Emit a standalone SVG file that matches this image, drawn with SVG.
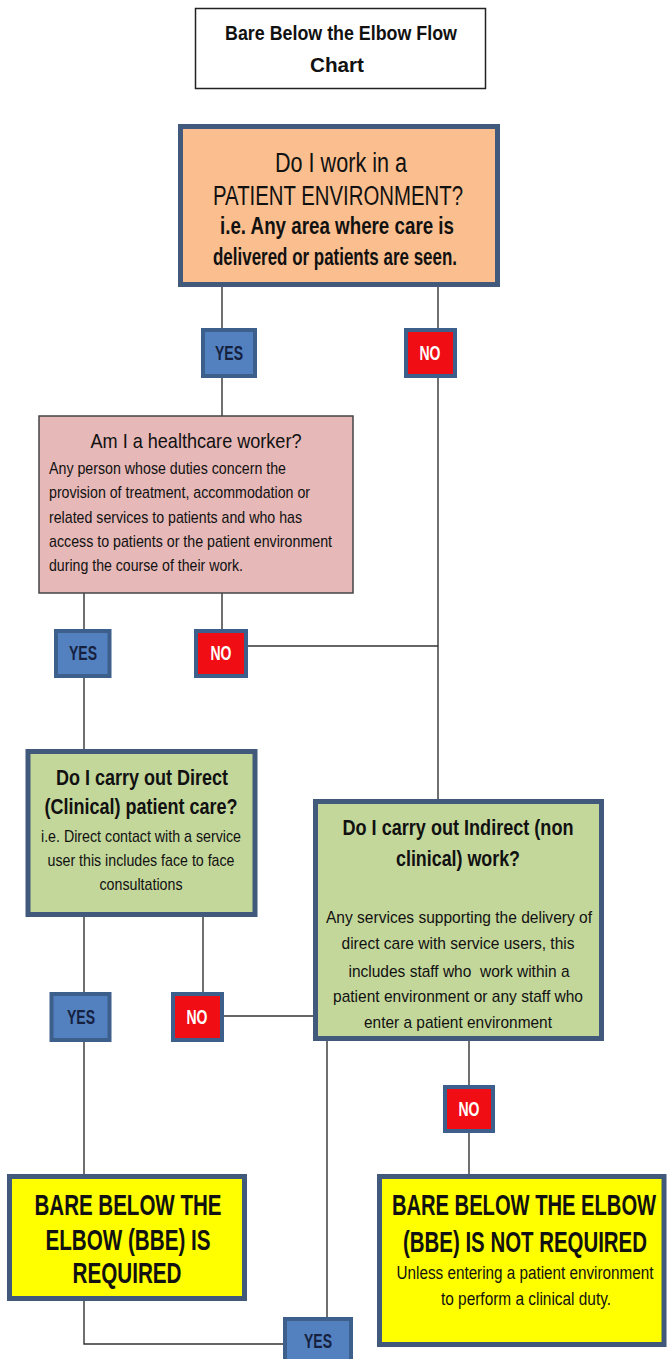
<svg xmlns="http://www.w3.org/2000/svg" width="667" height="1359" viewBox="0 0 667 1359">
<style>
text{font-family:"Liberation Sans Narrow","Liberation Sans",Arial,sans-serif;fill:#111;}
.b{font-weight:bold;}
.c{text-anchor:middle;}
.box{stroke:#41597a;stroke-width:5;}
.yn{stroke:#3c5f8c;stroke-width:4;}
.yes{fill:#5381c0;}
.no{fill:#f00d14;}
.ty{font-weight:bold;font-size:20px;fill:#15213f;text-anchor:middle;}
.tn{font-weight:bold;font-size:20px;fill:#fff;text-anchor:middle;}
.ln{stroke:#333;stroke-width:1.4;fill:none;}
</style>
<rect width="667" height="1359" fill="#fff"/>
<g id="connectors">
<path class="ln" d="M222 287V416"/>
<path class="ln" d="M438 287V799"/>
<path class="ln" d="M248 646H438"/>
<path class="ln" d="M84 593V749"/>
<path class="ln" d="M222 593V629"/>
<path class="ln" d="M84 917V1174"/>
<path class="ln" d="M203 917V992"/>
<path class="ln" d="M224 1016H313"/>
<path class="ln" d="M327 1041V1317"/>
<path class="ln" d="M469 1041V1174"/>
<path class="ln" d="M84 1301V1344H283"/>
</g>
<g id="title">
<rect x="195.5" y="8.5" width="290" height="80" fill="#fff" stroke="#222" stroke-width="1.5"/>
<text class="b c" x="341" y="40" font-size="20" textLength="232" lengthAdjust="spacingAndGlyphs">Bare Below the Elbow Flow</text>
<text class="b c" x="337" y="72" font-size="20" textLength="54" lengthAdjust="spacingAndGlyphs">Chart</text>
</g>
<g id="q1">
<rect class="box" x="180.5" y="126.5" width="317" height="158" fill="#fbbf8f"/>
<text class="c" x="341" y="172" font-size="27" textLength="132" lengthAdjust="spacingAndGlyphs">Do I work in a</text>
<text class="c" x="338" y="205" font-size="27" textLength="250" lengthAdjust="spacingAndGlyphs">PATIENT ENVIRONMENT?</text>
<text class="b c" x="337" y="234" font-size="23" textLength="234" lengthAdjust="spacingAndGlyphs">i.e. Any area where care is</text>
<text class="b c" x="335" y="265" font-size="23" textLength="244" lengthAdjust="spacingAndGlyphs">delivered or patients are seen.</text>
</g>
<g id="yes1">
<rect class="yn yes" x="203" y="330" width="52" height="46"/>
<text class="ty" x="229" y="360" textLength="28" lengthAdjust="spacingAndGlyphs">YES</text>
</g>
<g id="no1">
<rect class="yn no" x="406" y="330" width="49" height="46"/>
<text class="tn" x="430" y="360" textLength="21" lengthAdjust="spacingAndGlyphs">NO</text>
</g>
<g id="q2">
<rect x="39" y="416" width="314" height="177" fill="#e6b8b7" stroke="#444" stroke-width="1.5"/>
<text class="c" x="196" y="448" font-size="21" textLength="211" lengthAdjust="spacingAndGlyphs">Am I a healthcare worker?</text>
<text x="49" y="474" font-size="17" textLength="237" lengthAdjust="spacingAndGlyphs">Any person whose duties concern the</text>
<text x="49" y="498" font-size="17" textLength="261" lengthAdjust="spacingAndGlyphs">provision of treatment, accommodation or</text>
<text x="49" y="523" font-size="17" textLength="253" lengthAdjust="spacingAndGlyphs">related services to patients and who has</text>
<text x="49" y="547" font-size="17" textLength="283" lengthAdjust="spacingAndGlyphs">access to patients or the patient environment</text>
<text x="49" y="571" font-size="17" textLength="194" lengthAdjust="spacingAndGlyphs">during the course of their work.</text>
</g>
<g id="yes2">
<rect class="yn yes" x="56" y="631" width="53.5" height="45"/>
<text class="ty" x="83" y="660" textLength="28" lengthAdjust="spacingAndGlyphs">YES</text>
</g>
<g id="no2">
<rect class="yn no" x="196" y="631" width="50" height="45"/>
<text class="tn" x="221" y="660" textLength="21" lengthAdjust="spacingAndGlyphs">NO</text>
</g>
<g id="q3">
<rect class="box" x="28" y="751.5" width="227" height="163" fill="#c4d79b"/>
<text class="b c" x="142" y="785" font-size="22" textLength="172" lengthAdjust="spacingAndGlyphs">Do I carry out Direct</text>
<text class="b c" x="141" y="814" font-size="22" textLength="193" lengthAdjust="spacingAndGlyphs">(Clinical) patient care?</text>
<text class="c" x="141" y="842" font-size="17" textLength="200" lengthAdjust="spacingAndGlyphs">i.e. Direct contact with a service</text>
<text class="c" x="141" y="866" font-size="17" textLength="187" lengthAdjust="spacingAndGlyphs">user this includes face to face</text>
<text class="c" x="141" y="890" font-size="17" textLength="83" lengthAdjust="spacingAndGlyphs">consultations</text>
</g>
<g id="q4">
<rect class="box" x="315.5" y="801.5" width="286" height="237" fill="#c4d79b"/>
<text class="b c" x="458" y="835" font-size="22" textLength="231" lengthAdjust="spacingAndGlyphs">Do I carry out Indirect (non</text>
<text class="b c" x="458" y="866" font-size="22" textLength="124" lengthAdjust="spacingAndGlyphs">clinical) work?</text>
<text class="c" x="459" y="923" font-size="17" textLength="266" lengthAdjust="spacingAndGlyphs">Any services supporting the delivery of</text>
<text class="c" x="458" y="949" font-size="17" textLength="233" lengthAdjust="spacingAndGlyphs">direct care with service users, this</text>
<text class="c" x="459" y="977" font-size="17" textLength="221" lengthAdjust="spacingAndGlyphs" xml:space="preserve">includes staff who  work within a</text>
<text class="c" x="458" y="1002" font-size="17" textLength="250" lengthAdjust="spacingAndGlyphs">patient environment or any staff who</text>
<text class="c" x="458" y="1028" font-size="17" textLength="188" lengthAdjust="spacingAndGlyphs">enter a patient environment</text>
</g>
<g id="yes3">
<rect class="yn yes" x="51.5" y="994" width="58" height="46"/>
<text class="ty" x="81" y="1024" textLength="28" lengthAdjust="spacingAndGlyphs">YES</text>
</g>
<g id="no3">
<rect class="yn no" x="173" y="994" width="49" height="46"/>
<text class="tn" x="197" y="1024" textLength="21" lengthAdjust="spacingAndGlyphs">NO</text>
</g>
<g id="no4">
<rect class="yn no" x="445" y="1087" width="48" height="44"/>
<text class="tn" x="469" y="1116" textLength="21" lengthAdjust="spacingAndGlyphs">NO</text>
</g>
<g id="r1">
<rect class="box" x="9.5" y="1176.5" width="235" height="122" fill="#ffff00"/>
<text class="b c" x="128" y="1215" font-size="30" textLength="187" lengthAdjust="spacingAndGlyphs">BARE BELOW THE</text>
<text class="b c" x="128" y="1250" font-size="30" textLength="165" lengthAdjust="spacingAndGlyphs">ELBOW (BBE) IS</text>
<text class="b c" x="127" y="1283" font-size="30" textLength="109" lengthAdjust="spacingAndGlyphs">REQUIRED</text>
</g>
<g id="r2">
<rect class="box" x="379.5" y="1176.5" width="284.5" height="168" fill="#ffff00"/>
<text class="b c" transform="translate(524 1215) scale(0.672 1)" font-size="30">BARE BELOW THE ELBOW</text>
<text class="b c" transform="translate(525 1252) scale(0.681 1)" font-size="30">(BBE) IS NOT REQUIRED</text>
<text class="c" transform="translate(525 1279) scale(0.803 1)" font-size="19">Unless entering a patient environment</text>
<text class="c" x="526" y="1305" font-size="19" textLength="170" lengthAdjust="spacingAndGlyphs">to perform a clinical duty.</text>
</g>
<g id="yes4">
<rect class="yn yes" x="285" y="1319" width="66" height="46"/>
<text class="ty" x="318" y="1348" textLength="28" lengthAdjust="spacingAndGlyphs">YES</text>
</g>
</svg>
